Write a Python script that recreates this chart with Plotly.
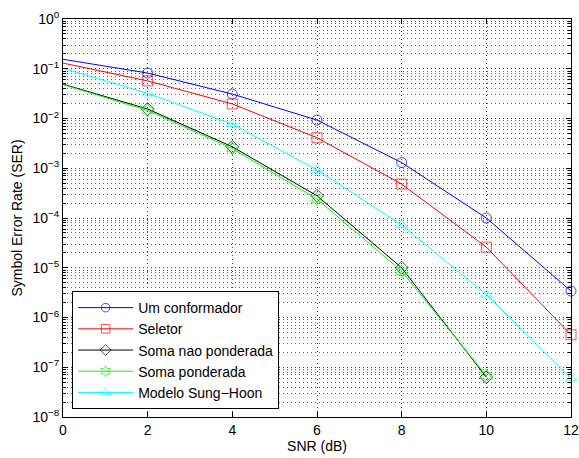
import plotly.graph_objects as go

snr = [0, 2, 4, 6, 8, 10, 12]
snr_short = [0, 2, 4, 6, 8, 10]

um_conformador = [0.155, 0.082, 0.031, 0.0093, 1.3e-3, 1.0e-4, 3.4e-6]
seletor = [0.13, 0.057, 0.0196, 0.0041, 4.8e-4, 2.6e-5, 4.5e-7]
soma_nao_ponderada = [0.049, 0.0155, 2.7e-3, 2.8e-4, 1.0e-5, 6.3e-8]
soma_ponderada = [0.048, 0.0145, 2.5e-3, 2.4e-4, 8.5e-6, 6.8e-8]
sung_hoon = [0.102, 0.032, 7.7e-3, 9.3e-4, 7.2e-5, 2.9e-6, 6.0e-8]

names = ["Um conformador", "Seletor", "Soma nao ponderada", "Soma ponderada", "Modelo Sung\u2212Hoon"]
y_exponents = [0, -1, -2, -3, -4, -5, -6, -7, -8]

series = [
    (snr, um_conformador, "#0000ff", "circle-open"),
    (snr, seletor, "#ff0000", "square-open"),
    (snr_short, soma_nao_ponderada, "#000000", "diamond-open"),
    (snr_short, soma_ponderada, "#00ff00", "hexagram-open"),
    (snr, sung_hoon, "#00ffff", "triangle-up-open"),
]

fig = go.Figure()
for name, (xs, ys, color, sym) in zip(names, series):
    sizes = [0] + [10] * (len(xs) - 1)
    fig.add_trace(go.Scatter(
        x=xs, y=ys, name=name, mode="lines+markers", cliponaxis=False,
        line=dict(color=color, width=1),
        marker=dict(symbol=sym, size=sizes, color=color, line=dict(color=color, width=1)),
    ))

FAM = "Liberation Sans, Arial, sans-serif"
font = dict(family=FAM, size=14, color="black")
tickfont = dict(family=FAM, size=14, color="black")

ytickvals = [10.0 ** e for e in y_exponents]
yticktext = ["10<sup>" + str(e).replace("-", "\u2212") + "</sup>" for e in y_exponents]

fig.update_layout(
    width=579, height=458, autosize=False,
    margin=dict(l=63, r=8, t=19, b=41, autoexpand=False),
    paper_bgcolor="white", plot_bgcolor="white",
    font=font,
    showlegend=True,
    legend=dict(
        x=0.018, y=0.02, xanchor="left", yanchor="bottom",
        bordercolor="black", borderwidth=1, bgcolor="white",
        font=dict(family=FAM, size=14, color="black"),
        tracegroupgap=0, itemwidth=55,
    ),
    xaxis=dict(
        range=[0, 12], dtick=2, tick0=0, automargin=False,
        showline=True, linecolor="black", linewidth=1, mirror="ticks",
        ticks="inside", ticklen=5, tickcolor="black",
        showgrid=True, gridcolor="#444444", griddash="1px,3px", gridwidth=1,
        zeroline=False,
        title=dict(text="SNR (dB)", font=font, standoff=2),
        tickfont=tickfont,
    ),
    yaxis=dict(
        type="log", range=[-8, 0], automargin=False,
        tickmode="array", tickvals=ytickvals, ticktext=yticktext,
        showline=True, linecolor="black", linewidth=1, mirror="ticks",
        ticks="inside", ticklen=5, tickcolor="black",
        showgrid=True, gridcolor="#444444", griddash="1px,3px", gridwidth=1,
        minor=dict(showgrid=True, gridcolor="#666666", griddash="1px,3px", gridwidth=1,
                   ticks="inside", ticklen=3, tickcolor="black", dtick="D1"),
        zeroline=False,
        title=dict(text="Symbol Error Rate (SER)", font=font, standoff=6),
        tickfont=tickfont,
    ),
)

fig.write_html(
    "out.html",
    config={"displayModeBar": False, "responsive": False},
    post_script="document.documentElement.style.overflow='hidden';"
                "document.body.style.overflow='hidden';"
                "document.body.style.margin='0px';",
)
